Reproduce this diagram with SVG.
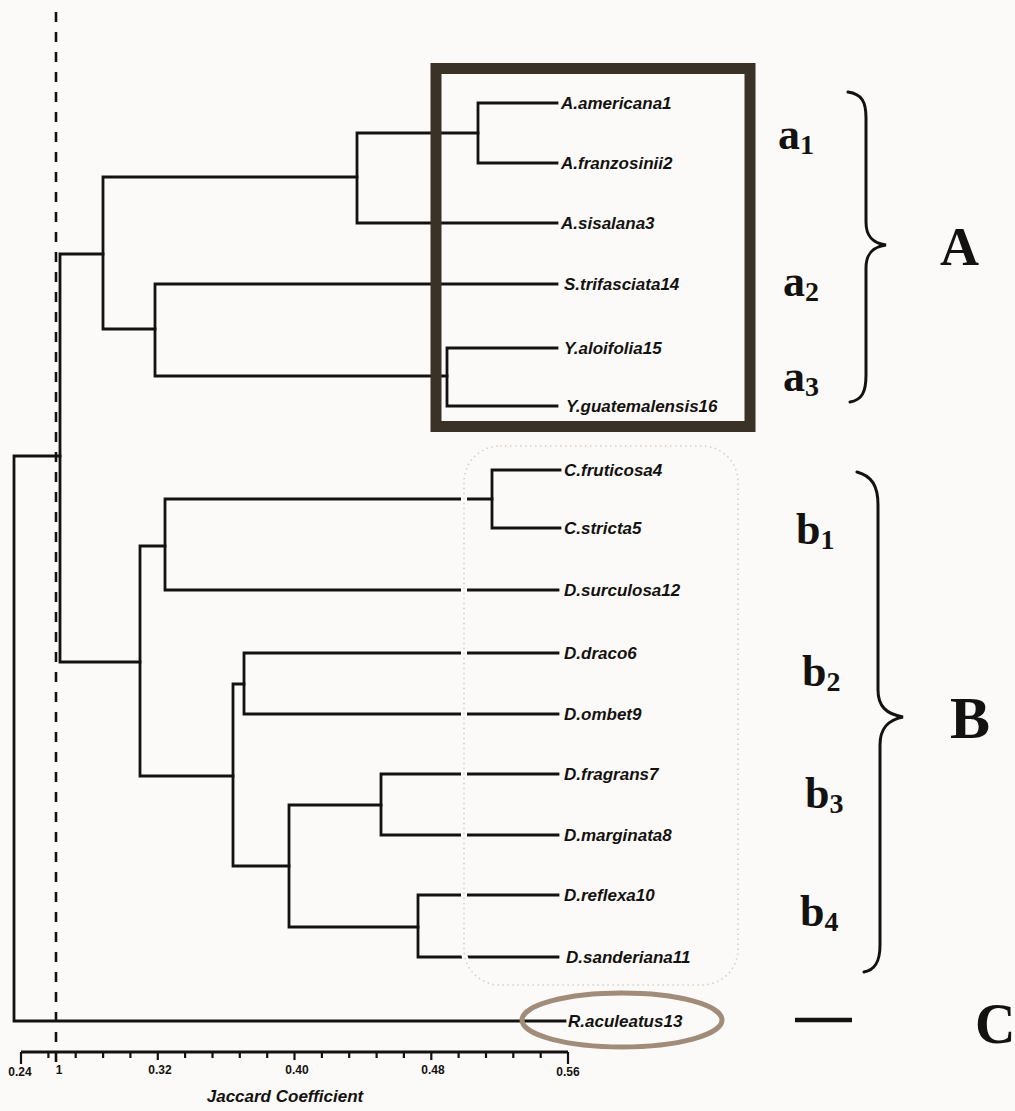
<svg xmlns="http://www.w3.org/2000/svg" width="1015" height="1111" viewBox="0 0 1015 1111">
<style>
.ln{stroke:#141210;stroke-width:2.8;fill:none;stroke-linecap:square}
.leaf{font-family:"Liberation Sans",Arial,sans-serif;font-weight:bold;font-style:italic;font-size:17px;fill:#141210}
.grp{font-family:"Liberation Serif","Times New Roman",serif;font-weight:bold;font-size:44px;fill:#141210}
.sub{font-size:28px}
.big{font-family:"Liberation Serif","Times New Roman",serif;font-weight:bold;font-size:56px;fill:#141210}
.ax{font-family:"Liberation Sans",Arial,sans-serif;font-weight:bold;font-size:12px;fill:#141210;text-anchor:middle}
.brace{stroke:#141210;stroke-width:3;fill:none;stroke-linecap:round}
</style>
<rect width="1015" height="1111" fill="#fcfaf8"/>

<!-- cut-off dashed line -->
<line x1="56" y1="12" x2="56" y2="1064" stroke="#141210" stroke-width="2.6" stroke-dasharray="10 10"/>

<g id="connectors">
  <!-- root -->
  <path class="ln" d="M60,456 H14 V1021 H565"/>
  <!-- A+B -->
  <path class="ln" d="M103,254 H60 V662 H140"/>
  <!-- cluster A -->
  <path class="ln" d="M357,177 H103 V329 H155"/>
  <path class="ln" d="M478,133 H357 V223 H557"/>
  <path class="ln" d="M557,103 H478 V163 H557"/>
  <path class="ln" d="M557,284 H155 V376 H447"/>
  <path class="ln" d="M557,348 H447 V406 H557"/>
  <!-- cluster B -->
  <path class="ln" d="M165,546 H140 V776 H233"/>
  <path class="ln" d="M492,499 H165 V590 H558"/>
  <path class="ln" d="M560,470 H492 V528 H560"/>
  <path class="ln" d="M244,684 H233 V866 H289"/>
  <path class="ln" d="M558,653 H244 V714 H558"/>
  <path class="ln" d="M381,805 H289 V927 H418"/>
  <path class="ln" d="M558,774 H381 V835 H558"/>
  <path class="ln" d="M558,895 H418 V957 H558"/>
</g>

<!-- faint dotted rounded frame round cluster B -->
<g id="frameB">
  <rect x="464" y="446" width="274" height="539" rx="36" fill="none" stroke="#fcfaf8" stroke-width="6"/>
  <rect x="464" y="446" width="274" height="539" rx="36" fill="none" stroke="#d9cec6" stroke-width="1.6" stroke-dasharray="1.5 3.5"/>
</g>

<!-- box round cluster A -->
<g id="boxA">
  <rect x="436" y="68.5" width="314" height="358" fill="none" stroke="#3a3127" stroke-width="11"/>
</g>

<g id="leaves">
  <g id="n1"><text class="leaf" x="561" y="109">A.americana1</text></g>
  <g id="n2"><text class="leaf" x="561" y="169">A.franzosinii2</text></g>
  <g id="n3"><text class="leaf" x="561" y="229">A.sisalana3</text></g>
  <g id="n14"><text class="leaf" x="564" y="290">S.trifasciata14</text></g>
  <g id="n15"><text class="leaf" x="564" y="354">Y.aloifolia15</text></g>
  <g id="n16"><text class="leaf" x="566" y="412">Y.guatemalensis16</text></g>
  <g id="n4"><text class="leaf" x="564" y="476">C.fruticosa4</text></g>
  <g id="n5"><text class="leaf" x="564" y="534">C.stricta5</text></g>
  <g id="n12"><text class="leaf" x="564" y="596">D.surculosa12</text></g>
  <g id="n6"><text class="leaf" x="564" y="659">D.draco6</text></g>
  <g id="n9"><text class="leaf" x="564" y="720">D.ombet9</text></g>
  <g id="n7"><text class="leaf" x="564" y="780">D.fragrans7</text></g>
  <g id="n8"><text class="leaf" x="564" y="841">D.marginata8</text></g>
  <g id="n10"><text class="leaf" x="564" y="901">D.reflexa10</text></g>
  <g id="n11"><text class="leaf" x="566" y="963">D.sanderiana11</text></g>
  <g id="n13">
    <ellipse cx="622" cy="1020" rx="100" ry="27" fill="none" stroke="#a08c78" stroke-width="5"/>
    <text class="leaf" x="568" y="1027">R.aculeatus13</text>
  </g>
</g>

<g id="subgroups">
  <g id="a1"><text class="grp" x="778" y="149">a<tspan class="sub" dy="5">1</tspan></text></g>
  <g id="a2"><text class="grp" x="783" y="296">a<tspan class="sub" dy="5">2</tspan></text></g>
  <g id="a3"><text class="grp" x="783" y="391">a<tspan class="sub" dy="5">3</tspan></text></g>
  <g id="b1"><text class="grp" x="796" y="544">b<tspan class="sub" dy="5">1</tspan></text></g>
  <g id="b2"><text class="grp" x="802" y="686">b<tspan class="sub" dy="5">2</tspan></text></g>
  <g id="b3"><text class="grp" x="805" y="808">b<tspan class="sub" dy="5">3</tspan></text></g>
  <g id="b4"><text class="grp" x="800" y="926">b<tspan class="sub" dy="5">4</tspan></text></g>
</g>

<g id="groupA">
  <path class="brace" d="M848,92 C862,94 866,102 866,118 L866,222 C866,236 872,243 886,245 C872,247 866,254 866,268 L866,375 C866,392 862,400 850,402"/>
  <text class="big" x="940" y="265" style="font-size:54px">A</text>
</g>
<g id="groupB">
  <path class="brace" d="M857,472 C872,476 878,486 878,505 L878,690 C878,706 886,714 903,717 C888,720 880,728 880,745 L880,945 C880,962 875,970 864,972"/>
  <text class="big" x="950" y="738" style="font-size:60px">B</text>
</g>
<g id="groupC">
  <line x1="795" y1="1020" x2="852" y2="1020" stroke="#141210" stroke-width="4.5"/>
  <text class="big" x="975" y="1043">C</text>
</g>

<g id="axis">
  <line x1="21" y1="1052" x2="568" y2="1052" stroke="#141210" stroke-width="3"/>
  <path stroke="#141210" stroke-width="2.2" fill="none" d="M21,1052 v12 M48.4,1052 v6 M75.7,1052 v6 M103.1,1052 v6 M130.4,1052 v6 M157.8,1052 v8 M185.1,1052 v6 M212.5,1052 v6 M239.8,1052 v6 M267.2,1052 v6 M294.5,1052 v8 M321.9,1052 v6 M349.2,1052 v6 M376.6,1052 v6 M403.9,1052 v6 M431.3,1052 v8 M458.6,1052 v6 M486,1052 v6 M513.3,1052 v6 M540.7,1052 v6 M568,1052 v12"/>
  <text class="ax" x="20" y="1076">0.24</text>
  <text class="ax" x="59" y="1074">1</text>
  <text class="ax" x="160" y="1074">0.32</text>
  <text class="ax" x="297" y="1074">0.40</text>
  <text class="ax" x="433" y="1074">0.48</text>
  <text class="ax" x="568" y="1076">0.56</text>
  <text x="285" y="1102" text-anchor="middle" style="font-family:'Liberation Sans',Arial,sans-serif;font-weight:bold;font-style:italic;font-size:17px;fill:#141210">Jaccard Coefficient</text>
</g>
</svg>
